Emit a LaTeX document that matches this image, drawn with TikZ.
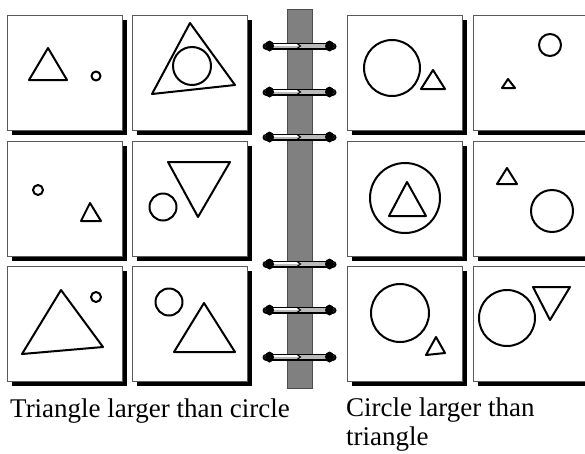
\documentclass[tikz,border=0pt]{standalone}
\usepackage{fontspec}
\setmainfont{Liberation Serif}
\usetikzlibrary{positioning}

\tikzset{
  card/.style={draw=black!65, fill=white, line width=1pt},
  cardshadow/.style={fill=black},
  figline/.style={draw=black, line width=2pt, line join=round},
  spine/.style={fill=black!50, draw=black!70, line width=1pt},
  caption/.style={font=\fontsize{27}{28.5}\selectfont, inner sep=0pt, anchor=base west, align=left}
}

% one card with its drop shadow, top left corner at (#1,#2)
\newcommand{\card}[2]{%
  \fill[cardshadow] (#1+5,#2+5) rectangle ++(115,115);
  \draw[card] (#1,#2) rectangle ++(115,115);}

\begin{document}
\begin{tikzpicture}[x=1pt, y=-1pt]
\useasboundingbox (0,0) rectangle (585,453);
\clip (0,0) rectangle (585,453);

% cards
\foreach \cx in {7,132,347,473}
  \foreach \cy in {15,141,266}
    \card{\cx}{\cy};

% binder spine and rings
\draw[spine] (287,9) rectangle (312,388);
\foreach \ry in {46,92,137,264,310,357} {
  \draw[line width=7pt, line cap=round] (266,\ry) -- (333,\ry);
  \draw[line width=4.6pt, black!27, line cap=round] (267,\ry) -- (332,\ry);
  \draw[line width=1.2pt, white] (271,\ry-1) -- (298,\ry-1);
  \draw[line width=1pt] (297,\ry-2.5) -- (300.5,\ry) -- (297,\ry+2.5);
  \fill (269.5,\ry) ellipse (4.5 and 5.5);
  \fill (329.5,\ry) ellipse (4.5 and 5.5);
}

% left group: triangle larger than circle
\begin{scope}[shift={(7,15)}]
  \draw[figline] (41,33) -- (22,65) -- (60,65) -- cycle;
  \draw[figline] (89,61) circle (4.5);
\end{scope}
\begin{scope}[shift={(132,15)}]
  \draw[figline] (58,8) -- (20,79) -- (103,70) -- cycle;
  \draw[figline] (60,51) circle (19);
\end{scope}
\begin{scope}[shift={(7,141)}]
  \draw[figline] (31,49) circle (5);
  \draw[figline] (83,62) -- (74,80) -- (94,80) -- cycle;
\end{scope}
\begin{scope}[shift={(132,141)}]
  \draw[figline] (36,21) -- (98,21) -- (66,76) -- cycle;
  \draw[figline] (31,66) circle (13.5);
\end{scope}
\begin{scope}[shift={(7,266)}]
  \draw[figline] (54,24) -- (15,88) -- (96,81) -- cycle;
  \draw[figline] (89,31) circle (5);
\end{scope}
\begin{scope}[shift={(132,266)}]
  \draw[figline] (37,36) circle (13.5);
  \draw[figline] (72,37) -- (42,86) -- (103,86) -- cycle;
\end{scope}

% right group: circle larger than triangle
\begin{scope}[shift={(347,15)}]
  \draw[figline] (45,53) circle (28);
  \draw[figline] (86,55) -- (74,74) -- (98,74) -- cycle;
\end{scope}
\begin{scope}[shift={(473,15)}]
  \draw[figline] (77,30) circle (11);
  \draw[figline] (35,64) -- (29,73) -- (42,73) -- cycle;
\end{scope}
\begin{scope}[shift={(347,141)}]
  \draw[figline] (58,57) circle (35);
  \draw[figline] (60,41) -- (42,75) -- (79,75) -- cycle;
\end{scope}
\begin{scope}[shift={(473,141)}]
  \draw[figline] (34,27) -- (24,43) -- (44,43) -- cycle;
  \draw[figline] (79,70) circle (21);
\end{scope}
\begin{scope}[shift={(347,266)}]
  \draw[figline] (53,47) circle (29);
  \draw[figline] (89,71) -- (79,89) -- (98,87) -- cycle;
\end{scope}
\begin{scope}[shift={(473,266)}]
  \draw[figline] (34,52) circle (28);
  \draw[figline] (60,21) -- (97,21) -- (77,54) -- cycle;
\end{scope}

% captions
\node[caption] (leftcap) at (10,417) {Triangle larger than circle};
\node[caption] (rightcap) at (346,445) {Circle larger than\\triangle};
\end{tikzpicture}
\end{document}
